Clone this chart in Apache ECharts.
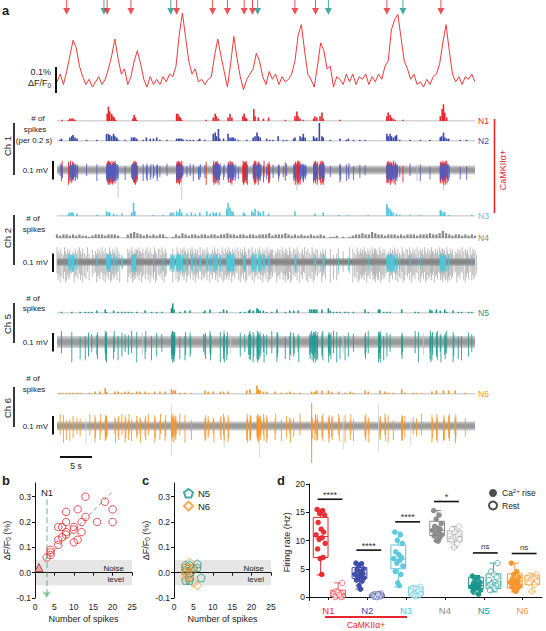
<!DOCTYPE html>
<html><head><meta charset="utf-8"><title>Figure</title>
<script src="https://cdn.jsdelivr.net/npm/echarts@6/dist/echarts.min.js"></script>
<style>html,body{margin:0;padding:0;background:#fff;}#chart{width:546px;height:631px;}</style>
</head><body><div id="chart"></div>
<script>
// ================= DATA =================
const timeRange = [0, 65];   // seconds shown in panel a
const dffStep = 0.5;         // s between dF/F samples
const dffValues = [
 0.00,0.03,-0.01,0.04,0.10,0.16,0.13,0.06,0.02,-0.01,
 0.01,-0.02,0.00,0.02,-0.01,0.01,0.05,0.10,0.165,0.09,
 0.03,0.05,-0.01,0.02,0.08,0.12,0.07,0.01,-0.02,0.02,
 -0.01,0.01,-0.01,0.02,0.00,0.03,0.02,0.06,0.18,0.265,
 0.17,0.08,0.03,0.05,0.00,0.01,-0.01,0.01,0.02,0.10,
 0.165,0.10,0.04,-0.02,0.07,0.175,0.09,0.02,-0.03,0.01,
 0.03,0.05,0.11,0.08,0.02,-0.01,0.04,0.01,0.03,-0.01,
 0.02,0.00,0.01,0.03,0.08,0.18,0.22,0.12,0.03,0.01,
 -0.02,0.06,0.15,0.12,0.05,0.06,-0.02,0.02,0.01,-0.01,
 0.03,0.00,0.03,-0.01,0.02,0.01,0.03,-0.01,0.02,0.00,
 0.03,0.01,0.06,0.08,0.20,0.24,0.26,0.17,0.08,0.05,
 0.01,0.03,-0.01,0.00,-0.02,0.01,-0.01,0.02,0.03,0.07,
 0.15,0.22,0.12,0.03,0.00,0.02,-0.01,0.02,0.01,0.03,
 0.00];
const redArrowTimes  = [1.5,7.8,11.5,18.6,24.2,26.5,29.1,30.4,37.0,40.2,51.3,59.7];
const tealArrowTimes = [7.3,17.7,31.2,42.2,53.8];

// spike counts per 0.2 s bin: [time (s), count]
const n1Bins = [[0.8,1],[1.8,1],[2.0,2],[2.3,2],[2.5,2],[2.8,1],[7.8,6],[8.0,12],[8.2,8],[8.5,6],[8.7,4],[8.9,3],[9.1,1],[11.8,2],[12.0,5],[12.2,3],[12.4,1],[18.6,6],[18.8,6],[19.0,4],[19.2,3],[19.4,1],[23.2,1],[24.3,3],[24.6,6],[24.8,4],[25.1,2],[26.6,3],[26.9,6],[27.2,3],[28.9,4],[29.1,6],[29.3,3],[29.5,2],[30.6,10],[30.8,4],[31.3,3],[32.1,2],[32.9,3],[35.5,1],[37.0,4],[37.3,8],[37.5,4],[37.8,2],[38.3,1],[39.9,2],[40.1,4],[40.4,3],[40.9,4],[41.2,7],[41.4,2],[44.0,1],[51.3,4],[51.5,7],[51.8,5],[52.0,3],[52.3,2],[52.6,1],[53.8,1],[59.6,4],[59.9,10],[60.1,14],[60.3,7],[60.6,3]];
const n2Bins = [[0.5,1],[0.7,2],[2.0,3],[2.3,4],[2.5,5],[2.8,3],[3.1,2],[4.6,1],[6.2,1],[7.7,6],[8.0,6],[8.2,5],[8.5,4],[8.8,6],[9.0,4],[9.3,3],[9.5,1],[10.6,1],[11.6,3],[11.9,3],[12.1,3],[12.4,2],[13.4,1],[13.9,3],[14.5,2],[15.0,2],[15.5,3],[16.0,1],[17.1,1],[18.6,2],[18.9,2],[19.1,2],[19.4,2],[19.6,1],[20.2,1],[20.7,1],[21.2,1],[22.0,1],[22.2,2],[23.0,1],[24.3,6],[24.6,7],[24.8,4],[25.1,10],[25.3,2],[25.9,2],[26.6,6],[26.9,3],[27.2,3],[27.4,3],[27.7,2],[28.2,1],[29.5,1],[30.5,3],[30.8,4],[31.1,7],[31.3,4],[31.6,3],[32.6,2],[33.1,1],[33.6,1],[34.4,4],[35.2,1],[35.7,1],[36.8,2],[37.0,3],[37.8,4],[38.1,3],[38.3,6],[38.6,3],[39.9,4],[40.1,2],[40.4,3],[40.8,15],[41.2,4],[41.4,3],[42.5,1],[44.0,2],[45.0,1],[45.3,2],[46.1,1],[47.1,1],[47.9,1],[51.3,6],[51.5,4],[51.8,6],[52.0,4],[52.3,3],[52.6,4],[52.8,5],[53.3,1],[54.9,1],[56.5,1],[58.0,1],[59.6,3],[59.8,4],[60.1,7],[60.3,3],[60.6,2],[60.9,2],[62.7,1],[63.7,1]];
const n3Bins = [[1.8,2],[2.0,3],[2.3,3],[2.5,3],[3.1,2],[6.2,1],[7.7,4],[8.0,3],[8.2,3],[8.8,2],[9.3,1],[10.1,2],[11.6,3],[11.9,11],[12.1,4],[15.0,1],[16.5,1],[17.6,2],[17.8,3],[18.1,3],[18.6,4],[18.9,3],[19.1,6],[19.4,3],[20.2,2],[20.9,3],[21.5,2],[22.2,3],[23.3,4],[23.8,2],[24.3,3],[24.6,2],[24.8,3],[25.3,3],[26.4,6],[26.6,11],[26.9,7],[27.2,4],[27.4,3],[29.0,3],[29.2,2],[30.3,4],[30.5,3],[30.8,6],[31.3,4],[31.6,3],[32.1,4],[32.9,2],[37.0,4],[40.1,2],[41.4,3],[43.8,1],[45.3,1],[48.4,1],[51.3,10],[51.5,7],[51.8,6],[52.0,4],[52.3,3],[52.8,2],[53.3,1],[54.9,1],[56.5,1],[59.6,5],[59.8,4],[60.1,3],[60.3,3],[60.9,1],[64.5,1]];
const n4Step = 0.5;   // N4 counts read every 0.5 s
const n4Counts = [
 3,2,3,3,2,3,2,3,2,2, 1,2,3,3,3,2,3,3,3,2, 0,0,3,4,5,4,3,2,3,2, 3,2,3,3,1,0,1,3,2,4,
 3,2,3,3,2,3,3,2,3,3, 2,3,3,4,3,3,2,3,3,2, 3,3,2,3,3,3,4,2,3,3, 3,4,3,2,3,2,3,2,2,3,
 2,2,3,2,0,1,1,2,0,1, 0,1,2,3,3,4,3,3,5,4, 3,3,2,3,3,3,2,3,2,3, 3,3,2,3,3,3,4,3,3,4,
 6,4,3,2,3,3,2,3,2,3, 2];
const n5Bins = [[0.7,1],[2.3,1],[3.6,1],[4.4,1],[4.9,1],[5.4,1],[6.2,2],[7.5,3],[7.7,1],[8.8,2],[9.5,1],[10.1,1],[10.6,1],[11.1,1],[11.6,1],[12.4,1],[13.7,2],[14.7,1],[15.5,1],[16.3,1],[17.8,4],[18.0,8],[18.2,3],[19.1,1],[19.9,2],[20.7,2],[22.8,1],[23.0,2],[23.8,3],[25.4,1],[25.9,3],[26.4,2],[28.5,1],[29.2,1],[29.8,2],[30.0,3],[30.5,2],[31.1,4],[31.3,3],[31.6,2],[32.1,2],[32.6,1],[33.4,1],[34.2,3],[35.5,1],[36.2,2],[36.8,2],[37.5,2],[39.3,3],[39.6,3],[39.9,3],[40.1,3],[40.4,3],[41.2,3],[42.2,4],[42.5,2],[43.0,1],[43.5,1],[44.0,1],[44.8,1],[45.3,1],[46.1,1],[47.9,3],[48.4,1],[50.0,3],[50.2,3],[50.8,1],[51.3,1],[51.8,1],[53.6,3],[55.7,1],[56.2,1],[58.0,3],[58.3,2],[59.0,3],[59.6,2],[60.3,3],[60.6,1],[61.6,2],[62.4,1],[62.9,1],[64.0,1],[64.5,1]];
const n6Bins = [[0.5,1],[1.0,1],[1.5,1],[2.0,1],[2.5,1],[3.1,1],[3.6,1],[5.1,1],[5.9,2],[6.7,2],[7.5,5],[7.7,2],[9.0,2],[9.5,2],[10.1,1],[10.6,2],[11.1,2],[11.6,1],[12.4,2],[12.9,2],[13.7,2],[14.2,1],[15.2,2],[16.0,2],[16.8,2],[17.8,4],[18.1,3],[18.4,3],[19.1,1],[19.9,1],[20.9,1],[23.0,3],[23.5,2],[24.3,2],[25.4,2],[25.9,2],[26.6,2],[29.5,3],[30.0,4],[31.1,7],[31.3,4],[31.6,3],[32.1,2],[32.6,2],[33.9,2],[34.9,1],[35.7,1],[36.2,2],[36.8,1],[37.8,1],[39.6,2],[40.1,2],[40.4,3],[41.2,3],[42.2,3],[42.7,2],[43.8,2],[44.8,1],[45.6,2],[46.1,1],[47.9,3],[48.4,2],[50.2,3],[51.0,2],[51.5,1],[52.3,1],[53.6,4],[54.1,1],[55.4,1],[55.9,1],[56.7,1],[58.3,2],[59.0,3],[60.1,3],[60.9,3],[61.9,3],[63.5,1]];

// extracellular traces (mV): spike peak / trough per unit, noise half-width per channel
const spikeAmp = {N1:[0.05,-0.08], N2:[0.035,-0.06], N3:[0.045,-0.055], N4:[0.08,-0.11], N5:[0.06,-0.11], N6:[0.065,-0.09]};
const noiseHalf = {ch1:0.024, ch2:0.02, ch5:0.032, ch6:0.024};
// other (unsorted) spikes: [time, peak, trough]
const ch1Other = [[9.5,0.03,-0.15],[14.8,0.03,-0.05],[19.4,0.03,-0.16],[37.3,0.03,-0.11],[45.5,0.03,-0.05],[56.0,0.03,-0.06],[60.1,0.02,-0.11]];
const ch5Other = [[5.0,0.04,-0.06],[13.3,0.05,-0.07],[27.0,0.04,-0.06],[36.5,0.05,-0.07],[44.5,0.04,-0.06],[57.0,0.05,-0.07]];
const ch6Other = [[4.5,0.04,-0.1],[17.8,0.11,-0.16],[26.0,0.05,-0.12],[31.5,0.06,-0.17],[44.5,0.05,-0.13],[50.0,0.12,-0.14],[55.0,0.04,-0.11],[61.9,0.07,-0.1]];
const n6Large = [[39.6,0.125,-0.2]];

// panel b
const bSpikes = [13,18,20,20,16,11,8,8,13,12,6,7,10,10,8,8,7,12,6,11,10,6,4,4,4,3];
const bDff    = [0.30,0.28,0.25,0.20,0.20,0.25,0.24,0.20,0.22,0.20,0.18,0.18,0.18,0.17,0.16,0.15,0.14,0.16,0.13,0.13,0.12,0.11,0.09,0.08,0.07,0.06];
const bBelow  = [[1,0.02]];
const bFit    = [[2.5,0.05],[20,0.32]];
const n1Threshold = 3;
const noiseLevel = 0.05;
// panel c
const cN5Spikes = [3,3,3,4,4,4,5,6,6,7,3,4];
const cN5Dff    = [0.03,0.02,-0.03,-0.02,-0.03,0.03,0.02,0.035,0.02,-0.02,0.01,0.0];
const cN6Spikes = [3,3,3,3,4,4,4,5,5,6,5,3,4];
const cN6Dff    = [0.02,0.01,0.0,-0.01,0.04,0.02,-0.01,0.02,-0.04,-0.05,0.01,-0.02,-0.02];
// panel d
const dNames = ['N1','N2','N3','N4','N5','N6'];
const riseRates = [
 [15.5,15.3,14.8,14.5,13.2,12.0,11.5,11.0,10.5,10.2,9.5,8.5,7.0,6.8,4.0],
 [6.0,5.9,5.5,5.0,4.8,4.5,4.2,4.0,3.8,3.6,3.4,3.0,2.8,2.0,1.4],
 [11.5,11.0,10.0,9.5,8.0,7.5,7.0,6.8,6.5,6.0,5.5,4.5,4.0,2.5,2.0],
 [15.3,14.5,13.8,13.0,12.5,12.2,12.0,11.8,11.5,11.2,11.0,10.8,10.5,10.0,9.9],
 [3.7,3.4,3.0,2.6,2.4,2.2,2.0,1.8,1.6,1.5,1.2,1.0,0.5],
 [6.0,4.5,4.0,3.5,3.2,3.0,2.8,2.6,2.4,2.2,2.0,1.8,1.5,1.2,1.0]];
const restRates = [
 [2.5,1.0,0.8,0.6,0.5,0.3,0.2,0.1,0.0,0.0,0.9,0.4],
 [0.6,0.5,0.4,0.4,0.3,0.3,0.2,0.2,0.1,0.1,0.0,0.5],
 [1.8,1.6,1.5,1.2,1.0,0.8,0.6,0.5,0.3,0.2,0.1],
 [12.5,12.0,11.5,11.0,10.8,10.6,10.5,10.2,10.0,9.5,8.8],
 [6.0,4.5,4.0,3.5,3.0,2.6,2.4,2.3,2.2,2.0,1.8,1.5,1.2],
 [4.0,3.8,3.6,3.4,3.3,3.2,3.0,2.8,2.5,2.2,1.0]];
// box stats [min, q1, median, q3, max]
const riseBox = [[3.9,7.0,10.7,14.1,15.5],[1.4,3.3,4.1,5.2,6.0],[1.8,5.0,6.6,9.2,11.5],[9.9,10.9,11.8,13.4,15.3],[0.5,1.5,2.0,3.5,3.8],[0.9,1.6,2.8,4.1,6.0]];
const restBox = [[0.0,0.1,0.6,1.2,2.5],[0.0,0.1,0.25,0.45,0.6],[0.1,0.3,0.9,1.8,1.9],[8.8,9.8,10.7,11.7,12.5],[0.9,1.5,2.3,4.1,6.0],[0.9,2.2,3.2,3.8,4.1]];
const sigLabels = ['****','****','****','*','ns','ns'];
const sigLevel  = [17.3,8.3,13.3,16.9,7.8,7.7];

// ================= STYLE =================
const FONT = 'Liberation Sans, Arial, Helvetica, sans-serif';
const COL = {N1:'#e8262d', N2:'#3a48a8', N3:'#56c6dc', N4:'#8a8a8a', N5:'#16968b', N6:'#f5952b'};
const REST = {N1:'#ee5a5f', N2:'#5563b8', N3:'#6fd0e2', N4:'#b5b5b5', N5:'#3aaaa0', N6:'#f7a850'};
const AMP = [1, 0.72, 0.55, 0.9, 0.63, 0.84, 0.48];
const JIT = [-0.07,0.04,-0.02,0.08,-0.05,0.01,0.06,-0.09,0.03,-0.03,0.09,-0.06,0.05,-0.01,0.02];

// grid layout (px)
const gridsA = [
 {top:0, height:94.9, y:[-0.05,0.315]},   // 0 dF/F
 {top:103, height:18, y:[0,15]},          // 1 N1
 {top:123, height:18, y:[0,15]},          // 2 N2
 {top:151.5, height:48.1, y:[-0.16,0.1]}, // 3 Ch1
 {top:198, height:18, y:[0,15]},          // 4 N3
 {top:220, height:18, y:[0,15]},          // 5 N4
 {top:243.5, height:42.55, y:[-0.13,0.1]},// 6 Ch2
 {top:295, height:18, y:[0,15]},          // 7 N5
 {top:319.8, height:49.95, y:[-0.15,0.12]},// 8 Ch5
 {top:376, height:18, y:[0,15]},          // 9 N6
 {top:401.95, height:61.05, y:[-0.2,0.13]} // 10 Ch6
];
const grid = [], xAxis = [], yAxis = [];
gridsA.forEach((g,i)=>{
  grid.push({left:57, width:418, top:g.top, height:g.height, containLabel:false});
  xAxis.push({gridIndex:i, type:'value', min:timeRange[0], max:timeRange[1], show:false});
  yAxis.push({gridIndex:i, type:'value', min:g.y[0], max:g.y[1], show:false});
});
const TICKF = 8.5, NAMEF = 9;
const axisCommon = {
  axisLine:{show:true, lineStyle:{color:'#111', width:1}},
  axisTick:{show:true, length:3, lineStyle:{color:'#111'}},
  axisLabel:{color:'#222', fontSize:TICKF, fontFamily:FONT, margin:4},
  splitLine:{show:false}
};
const yTicksBC = [-0.1,0,0.1,0.2,0.3];
[[35,11],[174,12]].forEach(([left,gi])=>{
  grid.push({left:left, width:97, top:483, height:115});
  xAxis.push(Object.assign({}, axisCommon, {gridIndex:gi, type:'value', min:0, max:25, interval:5,
    name:'Number of spikes', nameLocation:'middle', nameGap:16,
    nameTextStyle:{fontSize:NAMEF, fontFamily:FONT, color:'#222'}}));
  yAxis.push(Object.assign({}, axisCommon, {gridIndex:gi, type:'value', min:-0.1, max:0.354,
    axisTick:{show:true, length:3, lineStyle:{color:'#111'}, customValues:yTicksBC},
    axisLabel:{color:'#222', fontSize:TICKF, fontFamily:FONT, margin:4, customValues:yTicksBC, formatter:v=>v.toFixed(1)},
    name:'ΔF/F{s|0} (%)', nameLocation:'middle', nameGap:20,
    nameTextStyle:{fontSize:NAMEF, fontFamily:FONT, color:'#222', rich:{s:{fontSize:6.5, fontFamily:FONT, color:'#222', padding:[4,0,0,0]}}}}));
});
// panel d
grid.push({left:309, width:233, top:484, height:116.4});
const dTicksY = [0,5,10,15,20];
const dTicksX = [1,2,3,4,5,6];
const dRich = {};
dNames.forEach(n=>{ dRich[n] = {color:COL[n], fontSize:9.5, fontFamily:FONT}; });
xAxis.push(Object.assign({}, axisCommon, {gridIndex:13, type:'value', min:0.5, max:6.5,
  axisTick:{show:true, length:3, lineStyle:{color:'#111'}, customValues:dTicksX},
  axisLabel:{margin:5, customValues:dTicksX, formatter:v=>{const n=dNames[Math.round(v)-1]; return n?'{'+n+'|'+n+'}':'';}, rich:dRich}}));
yAxis.push(Object.assign({}, axisCommon, {gridIndex:13, type:'value', min:-0.6, max:20,
  axisTick:{show:true, length:3, lineStyle:{color:'#111'}, customValues:dTicksY},
  axisLabel:{color:'#222', fontSize:TICKF, fontFamily:FONT, margin:4, customValues:dTicksY},
  name:'Firing rate (Hz)', nameLocation:'middle', nameGap:17,
  nameTextStyle:{fontSize:NAMEF, fontFamily:FONT, color:'#222'}}));

// ================= SERIES =================
const series = [];
// dF/F trace
series.push({type:'line', xAxisIndex:0, yAxisIndex:0, data:dffValues.map((v,i)=>[i*dffStep, v]),
  showSymbol:false, symbol:'none', lineStyle:{color:'#f03a3a', width:1}, z:3, clip:false});
const arrowPath = 'path://M4.3,0 L5.7,0 L5.7,10 L10,10 L5,18 L0,10 L4.3,10 Z';
const arrowLevel = 0.287;
series.push({type:'scatter', xAxisIndex:0, yAxisIndex:0, data:tealArrowTimes.map(t=>[t,arrowLevel]),
  symbol:arrowPath, symbolSize:[7,15], itemStyle:{color:COL.N5}, z:4});
series.push({type:'scatter', xAxisIndex:0, yAxisIndex:0, data:redArrowTimes.map(t=>[t,arrowLevel]),
  symbol:arrowPath, symbolSize:[7,15], itemStyle:{color:'#e8262d'}, z:5});

// histograms
function hist(gi, data, color, bw){
  series.push({type:'line', xAxisIndex:gi, yAxisIndex:gi, data:[[timeRange[0],0],[timeRange[1],0]],
    symbol:'none', lineStyle:{color:'#a8a8a8', width:1}, z:1, silent:true});
  series.push({type:'bar', xAxisIndex:gi, yAxisIndex:gi, data:data, barWidth:bw, itemStyle:{color:color}, z:2, silent:true});
}
hist(1, n1Bins, COL.N1, 1.6);
hist(2, n2Bins, COL.N2, 1.6);
hist(4, n3Bins, COL.N3, 1.6);
const n4Bins = n4Counts.map((c,i)=>[i*n4Step, c]);
hist(5, n4Bins, COL.N4, 2.2);
hist(7, n5Bins, COL.N5, 1.6);
hist(9, n6Bins, COL.N6, 1.6);

// traces
function band(gi, half, dark, light){
  series.push({type:'custom', xAxisIndex:gi, yAxisIndex:gi, silent:true, z:1, data:[[timeRange[0], half]],
    renderItem(p, api){
      const a = api.coord([timeRange[0], half]), b = api.coord([timeRange[1], -half]);
      return {type:'rect', shape:{x:a[0], y:a[1], width:b[0]-a[0], height:b[1]-a[1]},
        style:{fill:{type:'linear', x:0, y:0, x2:0, y2:1, colorStops:[
          {offset:0, color:light},{offset:0.35, color:dark},{offset:0.5, color:dark},{offset:0.65, color:dark},{offset:1, color:light}]}}};
    }});
}
function spikes(gi, data, amp, color, bin, width, opacity, z){
  series.push({type:'custom', xAxisIndex:gi, yAxisIndex:gi, silent:true, z:z, data:data,
    renderItem(p, api){
      const t = api.value(0), c = api.value(1);
      if (!(c > 0)) return null;
      const n = Math.max(1, Math.min(4, Math.round(c)));
      const ch = [];
      for (let k=0;k<n;k++){
        const fu = AMP[(p.dataIndex*3 + k) % AMP.length];
        const fd = AMP[(p.dataIndex*5 + k + 2) % AMP.length];
        const tt = t + k*bin/n;
        const a = api.coord([tt, amp[0]*fu]), b = api.coord([tt, amp[1]*fd]);
        ch.push({type:'line', shape:{x1:a[0], y1:a[1], x2:b[0], y2:b[1]}, style:{stroke:color, lineWidth:width, opacity:opacity}});
      }
      return {type:'group', children:ch};
    }});
}
function others(gi, data, color, width, z){
  series.push({type:'custom', xAxisIndex:gi, yAxisIndex:gi, silent:true, z:z, data:data,
    renderItem(p, api){
      const a = api.coord([api.value(0), api.value(1)]), b = api.coord([api.value(0), api.value(2)]);
      return {type:'line', shape:{x1:a[0], y1:a[1], x2:b[0], y2:b[1]}, style:{stroke:color, lineWidth:width}};
    }});
}
// Ch1
band(3, noiseHalf.ch1, '#9a9a9a', '#d8d8d8');
others(3, ch1Other, '#bdbdbd', 0.8, 2);
spikes(3, n1Bins, spikeAmp.N1, COL.N1, 0.2, 1, 0.9, 3);
spikes(3, n2Bins, spikeAmp.N2, '#4f5fc0', 0.2, 1, 0.85, 4);
// Ch2
band(6, noiseHalf.ch2, '#7f7f7f', '#bdbdbd');
spikes(6, n4Bins, spikeAmp.N4, '#8f8f8f', n4Step, 0.8, 0.75, 2);
spikes(6, n3Bins, spikeAmp.N3, '#4fc6da', 0.2, 1, 0.9, 4);
// Ch5
band(8, noiseHalf.ch5, '#9a9a9a', '#d4d4d4');
others(8, ch5Other, '#c8c8c8', 0.8, 2);
spikes(8, n5Bins, spikeAmp.N5, '#1f9a91', 0.2, 1, 0.85, 3);
// Ch6
band(10, noiseHalf.ch6, '#9a9a9a', '#d4d4d4');
others(10, ch6Other, '#d0d0d0', 0.8, 2);
spikes(10, n6Bins, spikeAmp.N6, COL.N6, 0.2, 1, 0.85, 3);
others(10, n6Large, COL.N6, 1, 4);

// panel b
function noiseRect(gi){
  series.push({type:'custom', xAxisIndex:gi, yAxisIndex:gi, silent:true, z:0, data:[[0, noiseLevel]],
    renderItem(p, api){
      const a = api.coord([0, noiseLevel]), b = api.coord([25, -noiseLevel]);
      return {type:'rect', shape:{x:a[0], y:a[1], width:b[0]-a[0], height:b[1]-a[1]}, style:{fill:'#e6e6e6'}};
    }});
}
noiseRect(11);
series.push({type:'lines', coordinateSystem:'cartesian2d', xAxisIndex:11, yAxisIndex:11, z:3,
  data:[{coords:[[n1Threshold,0.29],[n1Threshold,-0.1]]}], symbol:['none','arrow'], symbolSize:7,
  lineStyle:{color:'#2ca84a', width:1.5, type:'dashed'}});
series.push({type:'lines', coordinateSystem:'cartesian2d', xAxisIndex:11, yAxisIndex:11, z:3,
  data:[{coords:bFit}], lineStyle:{color:'#222', width:1, type:[4,3]}});
series.push({type:'scatter', xAxisIndex:11, yAxisIndex:11, z:4, data:bSpikes.map((s,i)=>[s,bDff[i]]),
  symbol:'circle', symbolSize:7.5, itemStyle:{color:'rgba(255,255,255,0)', borderColor:'#e8262d', borderWidth:1}});
series.push({type:'scatter', xAxisIndex:11, yAxisIndex:11, z:4, data:bBelow,
  symbol:'triangle', symbolSize:8, itemStyle:{color:'#e79a9a', borderColor:'#8c2a2a', borderWidth:1}});
// panel c
noiseRect(12);
const pentagon = 'path://M0,-1 L0.951,-0.309 L0.588,0.809 L-0.588,0.809 L-0.951,-0.309 Z';
series.push({name:'N5', type:'scatter', xAxisIndex:12, yAxisIndex:12, z:4, data:cN5Spikes.map((s,i)=>[s,cN5Dff[i]]),
  symbol:pentagon, symbolSize:8, itemStyle:{color:'rgba(255,255,255,0)', borderColor:COL.N5, borderWidth:1}});
series.push({name:'N6', type:'scatter', xAxisIndex:12, yAxisIndex:12, z:4, data:cN6Spikes.map((s,i)=>[s,cN6Dff[i]]),
  symbol:'diamond', symbolSize:9, itemStyle:{color:'rgba(255,255,255,0)', borderColor:COL.N6, borderWidth:1}});

// panel d
const riseOff = -0.2, restOff = 0.25, boxHalf = 0.19;
const boxData = [];
dNames.forEach((n,i)=>{
  boxData.push([i+1+riseOff].concat(riseBox[i], [i, 0]));
  boxData.push([i+1+restOff].concat(restBox[i], [i, 1]));
});
series.push({type:'custom', xAxisIndex:13, yAxisIndex:13, silent:true, z:2, data:boxData,
  renderItem(p, api){
    const x = api.value(0), idx = api.value(6), rest = api.value(7);
    const col = rest ? REST[dNames[idx]] : COL[dNames[idx]];
    const hw = api.size([boxHalf,0])[0], cw = hw*0.55;
    const pMin = api.coord([x, api.value(1)]), pQ1 = api.coord([x, api.value(2)]), pMed = api.coord([x, api.value(3)]);
    const pQ3 = api.coord([x, api.value(4)]), pMax = api.coord([x, api.value(5)]);
    const st = {stroke:col, lineWidth:1, fill:null};
    const cx = pQ1[0];
    return {type:'group', children:[
      {type:'rect', shape:{x:cx-hw, y:pQ3[1], width:2*hw, height:pQ1[1]-pQ3[1]}, style:{stroke:col, lineWidth:1, fill:'rgba(255,255,255,0)'}},
      {type:'line', shape:{x1:cx-hw, y1:pMed[1], x2:cx+hw, y2:pMed[1]}, style:st},
      {type:'line', shape:{x1:cx, y1:pQ3[1], x2:cx, y2:pMax[1]}, style:st},
      {type:'line', shape:{x1:cx, y1:pQ1[1], x2:cx, y2:pMin[1]}, style:st},
      {type:'line', shape:{x1:cx-cw, y1:pMax[1], x2:cx+cw, y2:pMax[1]}, style:st},
      {type:'line', shape:{x1:cx-cw, y1:pMin[1], x2:cx+cw, y2:pMin[1]}, style:st}
    ]};
  }});
dNames.forEach((n,i)=>{
  series.push({type:'scatter', xAxisIndex:13, yAxisIndex:13, z:4, symbol:'circle', symbolSize:5.5,
    data:riseRates[i].map((v,k)=>[i+1+riseOff+JIT[k%JIT.length]*1.3, v]),
    itemStyle:{color:COL[n], opacity:0.95}});
  series.push({type:'scatter', xAxisIndex:13, yAxisIndex:13, z:4, symbol:'circle', symbolSize:5.5,
    data:restRates[i].map((v,k)=>[i+1+restOff+JIT[(k+3)%JIT.length]*1.3, v]),
    itemStyle:{color:'rgba(255,255,255,0.6)', borderColor:REST[n], borderWidth:1}});
});
series.push({type:'custom', xAxisIndex:13, yAxisIndex:13, silent:true, z:5,
  data:sigLevel.map((y,i)=>[i+1, y]),
  renderItem(p, api){
    const x = api.value(0), y = api.value(1);
    const a = api.coord([x-0.28, y]), b = api.coord([x+0.36, y]);
    const lab = sigLabels[p.dataIndex];
    return {type:'group', children:[
      {type:'line', shape:{x1:a[0], y1:a[1], x2:b[0], y2:b[1]}, style:{stroke:'#111', lineWidth:1.6}},
      {type:'text', style:{text:lab, x:(a[0]+b[0])/2, y:a[1]-(lab==='ns'?2:0), align:'center', verticalAlign:'bottom',
        fontSize:lab==='ns'?8:9, fontFamily:FONT, fill:'#333'}}
    ]};
  }});
series.push({name:'rise', type:'scatter', xAxisIndex:13, yAxisIndex:13, data:[], symbol:'circle', itemStyle:{color:'#222'}});
series.push({name:'rest', type:'scatter', xAxisIndex:13, yAxisIndex:13, data:[], symbol:'circle', itemStyle:{color:'#fff', borderColor:'#222', borderWidth:1}});

// ================= TEXT / DECORATION =================
const gfx = [];
function txt(x, y, s, o){
  o = o || {};
  gfx.push({type:'text', x:x, y:y, rotation:o.rot||0, silent:true, z:100,
    style:{text:s, fill:o.color||'#222', fontSize:o.size||8, fontFamily:FONT, fontWeight:o.bold?'bold':'normal',
      align:o.align||'left', verticalAlign:'middle', textAlign:o.align||'left', textVerticalAlign:'middle', rich:o.rich}});
}
function seg(x1,y1,x2,y2,color,w){
  gfx.push({type:'line', silent:true, z:100, shape:{x1:x1,y1:y1,x2:x2,y2:y2}, style:{stroke:color||'#111', lineWidth:w||2}});
}
const LBL = 8, NL = 8.5, CHL = 9.5;
txt(2, 10, 'a', {bold:true, size:13});
txt(51, 72, '0.1%', {align:'right', size:9});
txt(51, 83, '{m|ΔF/F}{s|0}', {align:'right', rich:{m:{fontSize:9, fontFamily:FONT, fill:'#222'}, s:{fontSize:6.5, fontFamily:FONT, fill:'#222', padding:[4,0,0,0]}}});
seg(56, 67, 56, 93, '#111', 2);
// Ch1
txt(38, 118, '# of', {align:'center', size:LBL});
txt(35, 129, 'spikes', {align:'center', size:LBL});
txt(34, 140, '(per 0.2 s)', {align:'center', size:LBL});
txt(478, 121, 'N1', {color:COL.N1, size:NL});
txt(478, 141, 'N2', {color:COL.N2, size:NL});
txt(7, 146, 'Ch 1', {rot:Math.PI/2, align:'center', size:CHL});
seg(14, 123, 14, 175, '#222', 1.8);
txt(48, 170, '0.1 mV', {align:'right', size:LBL});
seg(53, 161, 53, 179.5, '#111', 2);
seg(494.5, 119, 494.5, 213, COL.N1, 1.6);
txt(503, 170, 'CaMKIIα+', {rot:Math.PI/2, align:'center', color:COL.N1, size:9});
// Ch2
txt(33, 218, '# of', {align:'center', size:LBL});
txt(34, 229, 'spikes', {align:'center', size:LBL});
txt(478, 216, 'N3', {color:COL.N3, size:NL});
txt(478, 238, 'N4', {color:COL.N4, size:NL});
txt(7, 238, 'Ch 2', {rot:Math.PI/2, align:'center', size:CHL});
seg(14, 215, 14, 265, '#222', 1.8);
txt(48, 262, '0.1 mV', {align:'right', size:LBL});
seg(53, 253.5, 53, 272, '#111', 2);
// Ch5
txt(33, 298, '# of', {align:'center', size:LBL});
txt(34, 308, 'spikes', {align:'center', size:LBL});
txt(478, 313, 'N5', {color:COL.N5, size:NL});
txt(7, 324, 'Ch 5', {rot:Math.PI/2, align:'center', size:CHL});
seg(14, 303, 14, 343, '#222', 1.8);
txt(48, 342, '0.1 mV', {align:'right', size:LBL});
seg(53, 333, 53, 351.5, '#111', 2);
// Ch6
txt(33, 378, '# of', {align:'center', size:LBL});
txt(34, 389, 'spikes', {align:'center', size:LBL});
txt(478, 394, 'N6', {color:COL.N6, size:NL});
txt(7, 408, 'Ch 6', {rot:Math.PI/2, align:'center', size:CHL});
seg(14, 387, 14, 427, '#222', 1.8);
txt(48, 426, '0.1 mV', {align:'right', size:LBL});
seg(53, 416, 53, 434.5, '#111', 2);
seg(60, 457, 92, 457, '#111', 2);
txt(76, 466, '5 s', {align:'center', size:8.5});
// b, c
txt(2, 480, 'b', {bold:true, size:13});
txt(47, 492, 'N1', {align:'center', size:9.5});
txt(124, 568, 'Noise', {align:'right', size:8});
txt(124, 579, 'level', {align:'right', size:8});
txt(142, 480, 'c', {bold:true, size:13});
txt(264, 568, 'Noise', {align:'right', size:8});
txt(264, 579, 'level', {align:'right', size:8});
// d
txt(277, 480, 'd', {bold:true, size:13});
seg(325, 617, 407, 617, COL.N1, 2);
txt(366, 625, 'CaMKIIα+', {align:'center', color:COL.N1, size:8.5});

const option = {
  animation:false,
  backgroundColor:'#fff',
  textStyle:{fontFamily:FONT},
  grid:grid, xAxis:xAxis, yAxis:yAxis, series:series,
  legend:[
    {data:['N5','N6'], left:178, top:483, orient:'vertical', itemWidth:9, itemHeight:9, itemGap:2,
     textStyle:{fontSize:9.5, fontFamily:FONT, color:'#222'}, selectedMode:false},
    {data:['rise','rest'], left:483, top:483, orient:'vertical', itemWidth:8, itemHeight:8, itemGap:3,
     formatter:n=>n==='rise'?'Ca{sup|2+} rise':'Rest', selectedMode:false,
     textStyle:{fontSize:8.5, fontFamily:FONT, color:'#222', rich:{sup:{fontSize:6, fontFamily:FONT, color:'#222', padding:[0,0,4,0]}}}}
  ],
  graphic:{elements:gfx}
};
const chart = echarts.init(document.getElementById('chart'), null, {renderer:'svg', width:546, height:631});
chart.setOption(option);
</script>
</body></html>
